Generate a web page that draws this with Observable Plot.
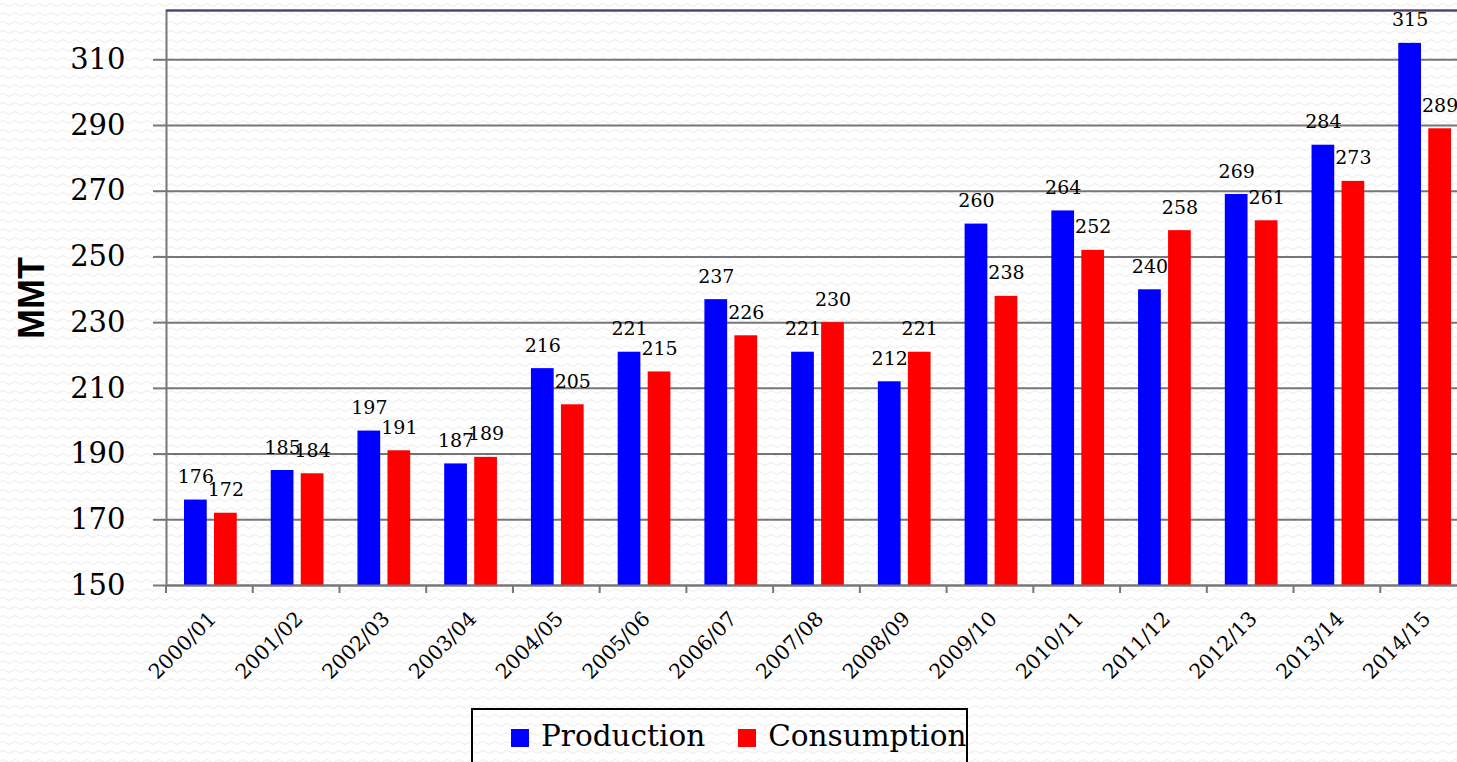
<!DOCTYPE html>
<html>
<head>
<meta charset="utf-8">
<script src="https://cdn.jsdelivr.net/npm/d3@7"></script>
<script src="https://cdn.jsdelivr.net/npm/@observablehq/plot@0.6"></script>
<style>
  html, body { margin: 0; padding: 0; overflow: hidden; }
  body {
    width: 1457px; height: 762px;
    background-color: #ffffff;
    background-image: url("data:image/svg+xml;utf8,<svg xmlns='http://www.w3.org/2000/svg' width='12' height='9'><path d='M0 5 Q3 2 6 5 T12 5' fill='none' stroke='%23ebebeb' stroke-width='1'/></svg>");
  }
  #wrap { position: relative; width: 1457px; height: 762px; }
  #legend {
    position: absolute; left: 471px; top: 708px; width: 497px; height: 70px;
    border: 2px solid #000; box-sizing: border-box;
    font-family: "DejaVu Serif", serif; font-size: 29.5px; color: #000;
    display: flex; align-items: center; padding: 0 0 14px 38px;
  }
  .item { display: flex; align-items: center; margin-right: 33px; line-height: 36px; }
  .sw { width: 18px; height: 18px; margin-right: 12px; margin-top: 4px; }
</style>
</head>
<body>
<div id="wrap"><div id="chart"></div><div id="legend"></div></div>
<script>
const years = ["2000/01","2001/02","2002/03","2003/04","2004/05","2005/06","2006/07","2007/08","2008/09","2009/10","2010/11","2011/12","2012/13","2013/14","2014/15"];
const production = [176,185,197,187,216,221,237,221,212,260,264,240,269,284,315];
const consumption = [172,184,191,189,205,215,226,230,221,238,252,258,261,273,289];
const seriesNames = ["Production","Consumption"];
const seriesColors = ["#0000ff","#ff0000"];
const yTicks = [150,170,190,210,230,250,270,290,310];
const yDomain = [150, 325];
const yLabel = ["MMT"];

const prodData = years.map((year, i) => ({year, value: production[i]}));
const consData = years.map((year, i) => ({year, value: consumption[i]}));

const gridColor = "#767676";

const chart = Plot.plot({
  width: 1468,
  height: 700,
  marginLeft: 166,
  marginRight: 1,
  marginTop: 10,
  marginBottom: 115,
  style: {fontFamily: "DejaVu Serif", background: "transparent", maxWidth: "none", overflow: "visible", color: "#000"},
  x: {domain: years, padding: 0, round: false, label: null},
  y: {domain: yDomain, label: null},
  marks: [
    Plot.gridY(yTicks, {stroke: gridColor, strokeOpacity: 1, strokeWidth: 2}),
    Plot.barY(prodData, {x: "year", y1: yDomain[0], y2: "value", fill: seriesColors[0], insetLeft: 18, insetRight: 46}),
    Plot.barY(consData, {x: "year", y1: yDomain[0], y2: "value", fill: seriesColors[1], insetLeft: 48, insetRight: 16}),
    Plot.frame({stroke: gridColor, strokeWidth: 2}),
    Plot.ruleY([yDomain[1]], {stroke: "#4d3f6e", strokeWidth: 2}),
    Plot.axisY({ticks: yTicks, tickSize: 13, tickPadding: 28, fontSize: 29, stroke: gridColor, strokeWidth: 2, label: null}),
    Plot.axisX({tickSize: 0, tickPadding: 30, tickRotate: -45, fontSize: 20.5, dx: 3, label: null}),
    Plot.text(prodData, {x: "year", y: "value", text: d => String(d.value), dx: -14, dy: -17, lineAnchor: "bottom", fontSize: 19, fill: "#000"}),
    Plot.text(consData, {x: "year", y: "value", text: d => String(d.value), dx: 16, dy: -17, lineAnchor: "bottom", fontSize: 19, fill: "#000"}),
    Plot.text(yLabel, {frameAnchor: "left", textAnchor: "middle", rotate: -90, dx: -134, dy: 0, fontFamily: "Liberation Sans", fontWeight: "bold", fontSize: 36, fill: "#000"})
  ]
});

// category boundary tick marks below the x axis (Excel-style), positioned from the x scale
const xs = chart.scale("x");
const ys = chart.scale("y");
const y0 = ys.apply(yDomain[0]);
const bounds = years.map(y => xs.apply(y)).concat([xs.apply(years[years.length - 1]) + xs.bandwidth]);
const g = d3.select(chart).append("g").attr("stroke", gridColor).attr("stroke-width", 2);
bounds.forEach(b => {
  g.append("line").attr("x1", b).attr("x2", b).attr("y1", y0).attr("y2", y0 + 8);
});

document.getElementById("chart").appendChild(chart);

const legend = d3.select("#legend");
seriesNames.forEach((name, i) => {
  const it = legend.append("div").attr("class", "item");
  it.append("div").attr("class", "sw").style("background", seriesColors[i]);
  it.append("span").text(name);
});
</script>
</body>
</html>
